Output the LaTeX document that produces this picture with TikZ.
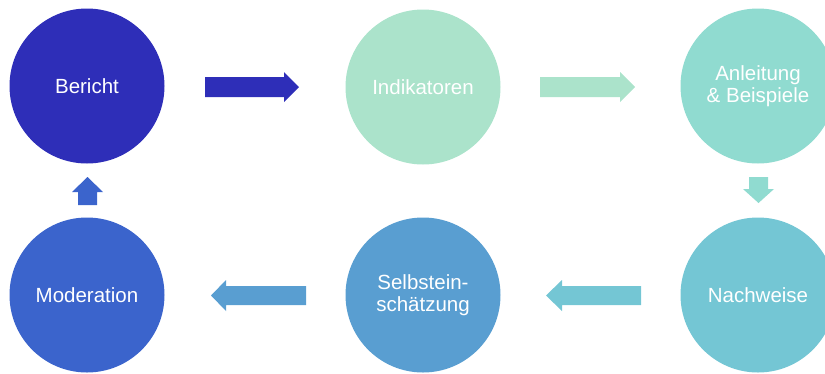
\documentclass[tikz,border=0pt]{standalone}
\usepackage{fontspec}
\setmainfont{Liberation Sans}
\definecolor{cBer}{HTML}{2E2EB8}
\definecolor{cInd}{HTML}{ABE3CB}
\definecolor{cAnl}{HTML}{90DBD0}
\definecolor{cNach}{HTML}{74C6D4}
\definecolor{cSelb}{HTML}{599ED1}
\definecolor{cMod}{HTML}{3B64CC}
\begin{document}
\begin{tikzpicture}[x=1pt,y=-1pt,
  stepcirc/.style={circle,minimum size=155pt,inner sep=0pt,text=white,
    font=\fontsize{20.5}{22.5}\selectfont,align=center},
  blockarrow/.style={draw=none}]
\useasboundingbox (0,0) rectangle (825,373);
\clip (0,0) rectangle (825,373);
\node[stepcirc,fill=cBer] (ber) at (87,86) {Bericht};
\node[stepcirc,fill=cInd] (ind) at (423,87) {Indikatoren};
\node[stepcirc,fill=cAnl] (anl) at (758,86) {Anleitung\\\& Beispiele};
\node[stepcirc,fill=cNach] (nach) at (758,295) {Nachweise};
\node[stepcirc,fill=cSelb] (selb) at (423,295) {Selbstein-\\schätzung};
\node[stepcirc,fill=cMod] (mod) at (87,295) {Moderation};
% right arrows
\fill[cBer] (205,77) -- (284,77) -- (284,72) -- (299,87) -- (284,102) -- (284,97) -- (205,97) -- cycle;
\fill[cInd] (540,77) -- (620,77) -- (620,72) -- (635,87) -- (620,102) -- (620,97) -- (540,97) -- cycle;
% down arrow
\fill[cAnl] (749,177) -- (768,177) -- (768,189) -- (774,189) -- (758.5,203) -- (743,189) -- (749,189) -- cycle;
% left arrows
\fill[cNach] (641,286) -- (562,286) -- (562,280) -- (546,295.5) -- (562,311) -- (562,305) -- (641,305) -- cycle;
\fill[cSelb] (306,286) -- (226,286) -- (226,280) -- (211,295.5) -- (226,311) -- (226,305) -- (306,305) -- cycle;
% up arrow
\fill[cMod] (78,205) -- (97,205) -- (97,192) -- (103,192) -- (87.5,177) -- (72,192) -- (78,192) -- cycle;
\end{tikzpicture}
\end{document}
